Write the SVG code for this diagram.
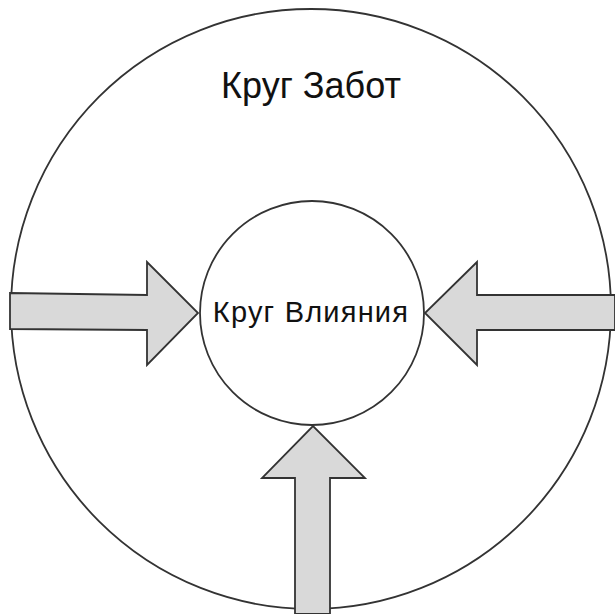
<svg xmlns="http://www.w3.org/2000/svg" width="615" height="614" viewBox="0 0 615 614">
<style>
.c{fill:none;stroke:#333;stroke-width:1.8}
.a{fill:#d9d9d9;stroke:#333;stroke-width:1.8;stroke-linejoin:miter}
.t{font-family:"Liberation Sans",Arial,sans-serif;fill:#111;text-anchor:middle}
</style>
<rect width="615" height="614" fill="#fff"/>
<g id="outer">
<circle class="c" cx="311" cy="309" r="300"/>
<text class="t" x="311" y="98" font-size="36">Круг Забот</text>
</g>
<g id="connectors">
<polygon class="a" points="10,293 147,295 147,262 198,313 147,365 147,330 10,329"/>
<polygon class="a" points="615,295 477,295 477,262 425,313 477,365 477,330 615,330"/>
<polygon class="a" points="295,614 295,478 262,478 313,426 365,478 330,478 330,614"/>
</g>
<g id="inner">
<circle class="c" cx="312" cy="313" r="112"/>
<text class="t" x="311" y="322" font-size="29" letter-spacing="1.2">Круг Влияния</text>
</g>
</svg>
